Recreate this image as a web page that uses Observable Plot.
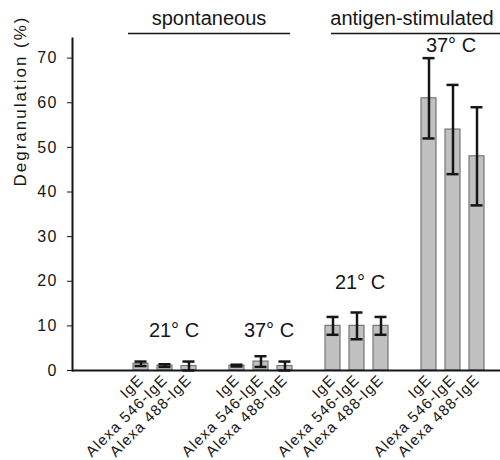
<!DOCTYPE html>
<html><head><meta charset="utf-8">
<script src="https://cdn.jsdelivr.net/npm/d3@7"></script>
<script src="https://cdn.jsdelivr.net/npm/@observablehq/plot@0.6"></script>
<style>
body{margin:0;background:#fff;}
#chart svg{display:block;}
</style></head><body><div id="chart"></div>
<script>
// ---- data ----
const groups = ["spont-21", "spont-37", "antigen-21", "antigen-37"];
const reagents = ["IgE", "Alexa 546-IgE", "Alexa 488-IgE"];
const means = [
  [1.5, 1.1, 1.0],
  [1.1, 2.0, 1.0],
  [10, 10, 10],
  [61, 54, 48]
];
const errors = [
  [0.5, 0.3, 1.0],
  [0.2, 1.2, 1.0],
  [2, 3, 2],
  [9, 10, 11]
];
const tempLabels = ["21° C", "37° C", "21° C", "37° C"];
const tempLabelY = [9, 9, 19.7, 72.9];
const conditionTitles = ["spontaneous", "antigen-stimulated"];
const yTicks = [0, 10, 20, 30, 40, 50, 60, 70];
const yMax = 74.4;
const yLabel = "Degranulation (%)";

// ---- tables ----
const rows = [];
groups.forEach((g, gi) => reagents.forEach((r, ri) => rows.push({
  key: g + "|" + r, group: g, reagent: r, mean: means[gi][ri], err: errors[gi][ri]
})));
const domain = [];
groups.forEach((g, gi) => {
  if (gi > 0) domain.push("gap" + gi);
  reagents.forEach(r => domain.push(g + "|" + r));
});
const tempRows = groups.map((g, gi) => ({key: g + "|" + reagents[1], label: tempLabels[gi], y: tempLabelY[gi]}));
const tempDx = [9, 8, 3, -2];

const font = "'Liberation Sans', Arial, Helvetica, sans-serif";
const ink = "#161616";

const chart = Plot.plot({
  width: 500, height: 460,
  marginLeft: 72, marginRight: 0, marginTop: 38, marginBottom: 90,
  style: {fontFamily: font, color: ink, background: "#fff", overflow: "visible"},
  x: {type: "band", domain, range: [131.5, 485.3], paddingInner: 0.38, paddingOuter: 0, axis: null},
  y: {domain: [0, yMax], axis: null},
  marks: [
    Plot.barY(rows, {x: "key", y: "mean", fill: "#c0c0c0", stroke: "#767676", strokeWidth: 1.2}),
    Plot.ruleX(rows, {x: "key", y1: d => d.mean - d.err, y2: d => d.mean + d.err, stroke: ink, strokeWidth: 2.5}),
    Plot.tickY(rows, {x: "key", y: d => d.mean + d.err, stroke: ink, strokeWidth: 2.5, insetLeft: 1.5, insetRight: 1.5}),
    Plot.tickY(rows, {x: "key", y: d => d.mean - d.err, stroke: ink, strokeWidth: 2.5, insetLeft: 1.5, insetRight: 1.5}),
    Plot.ruleY([0], {stroke: ink, strokeWidth: 2}),
    Plot.frame({anchor: "left", stroke: ink, strokeWidth: 2}),
    Plot.axisY({ticks: yTicks, tickSize: 5, tickPadding: 10, fontSize: 16, label: null, stroke: ink}),
    Plot.axisX({ticks: rows.map(d => d.key), tickFormat: d => d.split("|")[1], tickRotate: -45, tickSize: 0, tickPadding: 7, fontSize: 15, label: null}),
    ...tempRows.map((d, i) => Plot.text([d], {x: "key", y: "y", text: "label", dx: tempDx[i], fontSize: 20, fill: ink})),
    // condition titles and their underlines
    Plot.text([conditionTitles[0]], {x: () => "gap1", frameAnchor: "top", lineAnchor: "bottom", dy: -14, dx: -4, fontSize: 20, fill: ink}),
    Plot.text([conditionTitles[1]], {x: () => "gap3", frameAnchor: "top", lineAnchor: "bottom", dy: -14, dx: 7, fontSize: 20, fill: ink}),
    Plot.ruleY([yMax], {x1: () => groups[0] + "|" + reagents[0], x2: () => groups[1] + "|" + reagents[2], insetLeft: -5, insetRight: 2, stroke: ink, strokeWidth: 1.5, dy: -5}),
    Plot.ruleY([yMax], {x1: () => groups[2] + "|" + reagents[0], x2: () => groups[3] + "|" + reagents[2], insetLeft: 6, insetRight: -16, stroke: ink, strokeWidth: 1.5, dy: -5}),
    Plot.text([yLabel], {frameAnchor: "left", rotate: -90, dx: -52, dy: -18, fontSize: 17, fill: ink})
  ]
});
document.getElementById("chart").appendChild(chart);
const svg = d3.select(chart);
svg.select('g[aria-label="y-axis tick label"]').style("letter-spacing", "1.2px");
svg.select('g[aria-label="x-axis tick label"]').style("letter-spacing", "1.1px");
svg.selectAll("text").filter(function(){ return this.textContent === yLabel; }).style("letter-spacing", "2px");
</script></body></html>
